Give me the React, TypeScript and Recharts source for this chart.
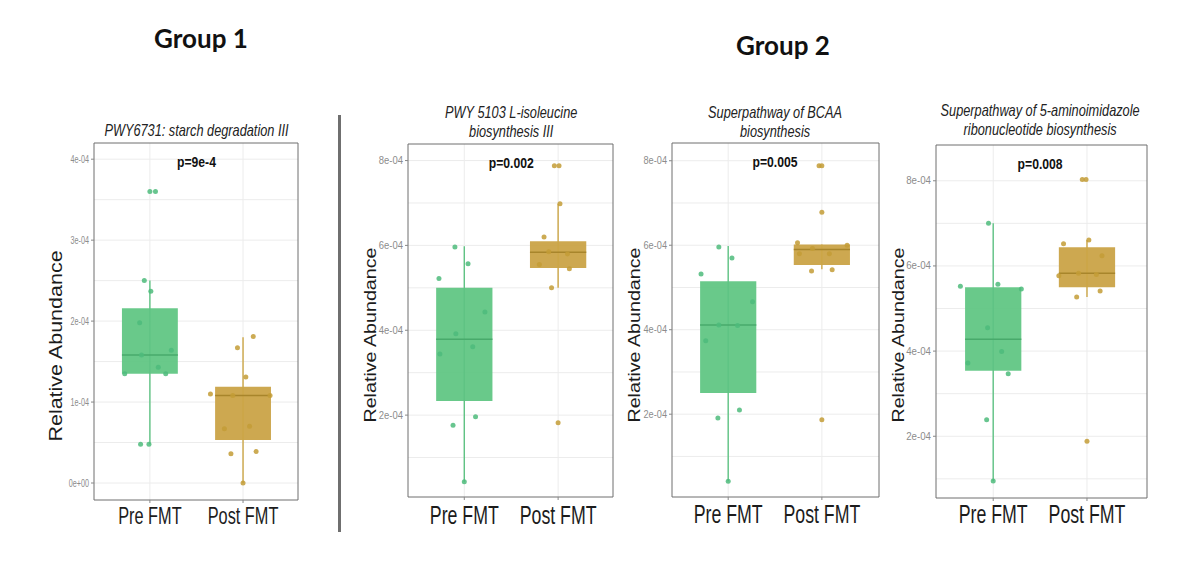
import React from "react";
import {
  CartesianGrid,
  ComposedChart,
  ReferenceArea,
  ReferenceDot,
  ReferenceLine,
  Scatter,
  XAxis,
  YAxis,
} from "recharts";

const GROUPS = ["Pre FMT", "Post FMT"];

// box stats: [lower whisker, q1, median, q3, upper whisker]
// panel 1 - PWY6731: starch degradation III
const P1_PRE = [3.6e-4, 3.6e-4, 2.5e-4, 2.37e-4, 1.98e-4, 1.58e-4, 1.64e-4, 1.43e-4, 1.35e-4, 1.35e-4, 0.48e-4, 0.48e-4];
const P1_PRE_JIT = [0, 0.06, -0.06, 0.01, -0.11, -0.09, 0.23, 0.09, -0.27, 0.17, -0.1, -0.01];
const P1_POST = [1.81e-4, 1.67e-4, 1.31e-4, 1.1e-4, 1.08e-4, 1.08e-4, 0.67e-4, 0.7e-4, 0.36e-4, 0.39e-4, 0];
const P1_POST_JIT = [0.11, -0.06, 0.03, -0.35, -0.11, 0.29, -0.2, 0.07, -0.13, 0.14, 0];
const P1_BOX_PRE = [0.48e-4, 1.35e-4, 1.58e-4, 2.16e-4, 2.5e-4];
const P1_BOX_POST = [0, 0.53e-4, 1.08e-4, 1.19e-4, 1.8e-4];

// panel 2 - PWY 5103 L-isoleucine biosynthesis III
const P2_PRE = [5.96e-4, 5.57e-4, 5.22e-4, 4.43e-4, 3.92e-4, 3.61e-4, 3.44e-4, 1.96e-4, 1.76e-4, 0.43e-4];
const P2_PRE_JIT = [-0.1, 0.04, -0.27, 0.22, -0.09, 0.09, -0.26, 0.12, -0.12, 0];
const P2_POST = [7.88e-4, 7.88e-4, 6.98e-4, 6.2e-4, 5.85e-4, 5.8e-4, 5.55e-4, 5.45e-4, 5.0e-4, 1.82e-4];
const P2_POST_JIT = [-0.04, 0.01, 0.02, -0.15, -0.1, 0.1, -0.2, 0.12, -0.07, 0];
const P2_BOX_PRE = [0.43e-4, 2.33e-4, 3.79e-4, 5.0e-4, 5.98e-4];
const P2_BOX_POST = [5.0e-4, 5.47e-4, 5.84e-4, 6.1e-4, 6.98e-4];

// panel 3 - Superpathway of BCAA biosynthesis
const P3_PRE = [5.96e-4, 5.7e-4, 5.32e-4, 4.66e-4, 4.11e-4, 4.1e-4, 3.74e-4, 2.1e-4, 1.91e-4, 0.41e-4];
const P3_PRE_JIT = [-0.1, 0.04, -0.29, 0.26, -0.1, 0.1, -0.24, 0.12, -0.11, 0];
const P3_POST = [7.88e-4, 7.88e-4, 6.78e-4, 6.06e-4, 6.0e-4, 5.92e-4, 5.8e-4, 5.8e-4, 5.39e-4, 5.42e-4, 1.87e-4];
const P3_POST_JIT = [-0.03, 0, 0, -0.26, 0.27, -0.1, -0.24, 0.08, -0.11, 0.11, 0];
const P3_BOX_PRE = [0.41e-4, 2.5e-4, 4.11e-4, 5.15e-4, 5.98e-4];
const P3_BOX_POST = [5.43e-4, 5.53e-4, 5.9e-4, 6.02e-4, 6.02e-4];

// panel 4 - Superpathway of 5-aminoimidazole ribonucleotide biosynthesis
const P4_PRE = [7.0e-4, 5.52e-4, 5.57e-4, 5.46e-4, 4.55e-4, 3.99e-4, 3.72e-4, 3.47e-4, 2.39e-4, 0.95e-4];
const P4_PRE_JIT = [-0.05, -0.35, 0.05, 0.3, -0.06, 0.09, -0.27, 0.16, -0.07, 0];
const P4_POST = [8.03e-4, 8.03e-4, 6.61e-4, 6.52e-4, 6.24e-4, 5.83e-4, 5.8e-4, 5.77e-4, 5.41e-4, 5.27e-4, 1.88e-4];
const P4_POST_JIT = [-0.05, -0.01, 0.02, -0.25, 0.16, -0.09, 0.1, -0.3, 0.14, -0.11, 0];
const P4_BOX_PRE = [0.95e-4, 3.54e-4, 4.28e-4, 5.5e-4, 7.0e-4];
const P4_BOX_POST = [5.27e-4, 5.5e-4, 5.83e-4, 6.44e-4, 6.61e-4];

const TICKS_SMALL = [0, 1e-4, 2e-4, 3e-4, 4e-4];
const MINOR_SMALL = [0.5e-4, 1.5e-4, 2.5e-4, 3.5e-4];
const TICKS_BIG = [2e-4, 4e-4, 6e-4, 8e-4];
const MINOR_BIG = [1e-4, 3e-4, 5e-4, 7e-4];

const GREEN = { fill: "#5ec581", line: "#5fc384", med: "#48aa6b", pt: "#4dbb7b" };
const GOLD = { fill: "#c9a143", line: "#cca646", med: "#a8852b", pt: "#c39c36" };
const FONT = "'Liberation Sans', Arial, sans-serif";

const fmtTick = (v: number) => (v === 0 ? "0e+00" : `${Math.round(v * 1e4)}e-04`);

const panels = [
  {
    title: ["PWY6731: starch degradation III"], p: "p=9e-4",
    pre: P1_PRE, preJit: P1_PRE_JIT, post: P1_POST, postJit: P1_POST_JIT,
    boxes: [P1_BOX_PRE, P1_BOX_POST], ticks: TICKS_SMALL, minor: MINOR_SMALL,
    yDomain: [-0.21e-4, 4.2e-4], xDomain: [0.4, 2.59],
    L: 94, R: 298, T: 143, B: 500, titleY: [136], labY: 346, labSize: 21.5,
    tickScale: 0.72, xFont: 23, xDy: 19,
  },
  {
    title: ["PWY 5103 L-isoleucine", "biosynthesis III"], p: "p=0.002",
    pre: P2_PRE, preJit: P2_PRE_JIT, post: P2_POST, postJit: P2_POST_JIT,
    boxes: [P2_BOX_PRE, P2_BOX_POST], ticks: TICKS_BIG, minor: MINOR_BIG,
    yDomain: [0.07e-4, 8.39e-4], xDomain: [0.4, 2.585],
    L: 408, R: 613, T: 144, B: 497, titleY: [118, 137], labY: 335, labSize: 19.7,
    tickScale: 0.95, xFont: 25, xDy: 22,
  },
  {
    title: ["Superpathway of BCAA", "biosynthesis"], p: "p=0.005",
    pre: P3_PRE, preJit: P3_PRE_JIT, post: P3_POST, postJit: P3_POST_JIT,
    boxes: [P3_BOX_PRE, P3_BOX_POST], ticks: TICKS_BIG, minor: MINOR_BIG,
    yDomain: [0.04e-4, 8.42e-4], xDomain: [0.4, 2.61],
    L: 672, R: 879, T: 143, B: 497, titleY: [118, 137], labY: 335, labSize: 19.7,
    tickScale: 0.92, xFont: 25, xDy: 21,
  },
  {
    title: ["Superpathway of 5-aminoimidazole", "ribonucleotide biosynthesis"], p: "p=0.008",
    pre: P4_PRE, preJit: P4_PRE_JIT, post: P4_POST, postJit: P4_POST_JIT,
    boxes: [P4_BOX_PRE, P4_BOX_POST], ticks: TICKS_BIG, minor: MINOR_BIG,
    yDomain: [0.55e-4, 8.84e-4], xDomain: [0.39, 2.64],
    L: 936, R: 1147, T: 145, B: 498, titleY: [116, 135], labY: 335, labSize: 19.7,
    tickScale: 0.97, xFont: 25, xDy: 20,
  },
];

type Panel = (typeof panels)[number];

const YW = 60;
const MT = 10;
const MR = 10;
const XH = 45;

function Dot(color: string) {
  return (props: any) => (
    <circle cx={props.cx} cy={props.cy} r={2.5} fill={color} fillOpacity={0.85} />
  );
}

function BoxPanel({ cfg }: { cfg: Panel }) {
  const width = cfg.R - cfg.L + YW + MR;
  const height = cfg.B - cfg.T + MT + XH;
  const preData = cfg.pre.map((v, i) => ({ x: 1 + cfg.preJit[i], y: v }));
  const postData = cfg.post.map((v, i) => ({ x: 2 + cfg.postJit[i], y: v }));
  const colors = [GREEN, GOLD];

  const xTick = (props: any) => (
    <text
      transform={`translate(${props.x},${props.y + cfg.xDy}) scale(0.71,1)`}
      textAnchor="middle"
      fontSize={cfg.xFont}
      fontFamily={FONT}
      fill="#1c1c1c"
    >
      {GROUPS[props.payload.value - 1]}
    </text>
  );
  const yTick = (props: any) => (
    <text
      transform={`translate(${props.x},${props.y}) scale(${cfg.tickScale},1)`}
      textAnchor="end"
      dy="0.35em"
      fontSize={10}
      fontFamily={FONT}
      fill="#8c8c8c"
    >
      {fmtTick(props.payload.value)}
    </text>
  );

  return (
    <div style={{ position: "absolute", left: cfg.L - YW, top: cfg.T - MT }}>
      <ComposedChart width={width} height={height} margin={{ top: MT, right: MR, bottom: 0, left: 0 }}>
        <CartesianGrid
          stroke="#ececec"
          horizontalValues={[...cfg.minor, ...cfg.ticks]}
          verticalValues={[1, 2]}
        />
        <XAxis
          type="number"
          dataKey="x"
          domain={cfg.xDomain}
          ticks={[1, 2]}
          interval={0}
          allowDataOverflow
          height={XH}
          axisLine={false}
          tickLine={{ stroke: "#888" }}
          tickSize={3}
          tick={xTick}
        />
        <YAxis
          type="number"
          dataKey="y"
          domain={cfg.yDomain}
          ticks={cfg.ticks}
          interval={0}
          allowDataOverflow
          width={YW}
          axisLine={false}
          tickLine={{ stroke: "#888" }}
          tickSize={3}
          tick={yTick}
        />
        {cfg.boxes.map((b, i) => (
          <ReferenceLine
            key={`w${i}`}
            segment={[{ x: i + 1, y: b[0] }, { x: i + 1, y: b[4] }]}
            stroke={colors[i].line}
            strokeWidth={1.4}
          />
        ))}
        {cfg.boxes.map((b, i) => (
          <ReferenceArea
            key={`b${i}`}
            x1={i + 1 - 0.3}
            x2={i + 1 + 0.3}
            y1={b[1]}
            y2={b[3]}
            fill={colors[i].fill}
            fillOpacity={0.93}
            stroke="none"
          />
        ))}
        {cfg.boxes.map((b, i) => (
          <ReferenceLine
            key={`m${i}`}
            segment={[{ x: i + 1 - 0.3, y: b[2] }, { x: i + 1 + 0.3, y: b[2] }]}
            stroke={colors[i].med}
            strokeWidth={1.5}
          />
        ))}
        <Scatter data={preData} fill={GREEN.pt} shape={Dot(GREEN.pt)} isAnimationActive={false} />
        <Scatter data={postData} fill={GOLD.pt} shape={Dot(GOLD.pt)} isAnimationActive={false} />
        <ReferenceArea
          x1={cfg.xDomain[0]}
          x2={cfg.xDomain[1]}
          y1={cfg.yDomain[0]}
          y2={cfg.yDomain[1]}
          fill="none"
          stroke="#6e6e6e"
          strokeWidth={1}
        />
        <ReferenceDot
          x={1.5}
          y={cfg.yDomain[1]}
          r={0}
          shape={(p: any) => (
            <text
              transform={`translate(${p.cx},${p.cy + 24}) scale(0.87,1)`}
              textAnchor="middle"
              fontSize={14}
              fontWeight="bold"
              fontFamily={FONT}
              fill="#111"
            >
              {cfg.p}
            </text>
          )}
        />
      </ComposedChart>
    </div>
  );
}

export default function App() {
  return (
    <div style={{ position: "absolute", left: 0, top: 0, width: 1200, height: 568, background: "#fff" }}>
      {panels.map((cfg, i) => (
        <BoxPanel key={i} cfg={cfg} />
      ))}
      <svg width={1200} height={568} style={{ position: "absolute", left: 0, top: 0, pointerEvents: "none" }}>
        <text x={201} y={48} textAnchor="middle" fontSize={26} fontWeight="bold" fontFamily="Lato, 'Open Sans', sans-serif" fill="#111">
          Group 1
        </text>
        <text x={783} y={55} textAnchor="middle" fontSize={26} fontWeight="bold" fontFamily="Lato, 'Open Sans', sans-serif" fill="#111">
          Group 2
        </text>
        <line x1={339.5} y1={115} x2={339.5} y2={532} stroke="#6f6f6f" strokeWidth={3} />
        {panels.map((cfg, i) => {
          // titles are centred between the two categories (x = 1.5)
          const mid = cfg.L + ((1.5 - cfg.xDomain[0]) / (cfg.xDomain[1] - cfg.xDomain[0])) * (cfg.R - cfg.L);
          return (
            <g key={i}>
              {cfg.title.map((line, j) => (
                <text
                  key={j}
                  transform={`translate(${mid},${cfg.titleY[j]}) scale(0.75,1)`}
                  textAnchor="middle"
                  fontSize={17}
                  fontStyle="italic"
                  fontFamily={FONT}
                  fill="#222"
                >
                  {line}
                </text>
              ))}
              <text
                transform={`translate(${cfg.L - 38},${cfg.labY}) rotate(-90) scale(1,0.82)`}
                textAnchor="middle"
                dy="0.36em"
                fontSize={cfg.labSize}
                fontFamily={FONT}
                fill="#1c1c1c"
              >
                Relative Abundance
              </text>
            </g>
          );
        })}
      </svg>
    </div>
  );
}
